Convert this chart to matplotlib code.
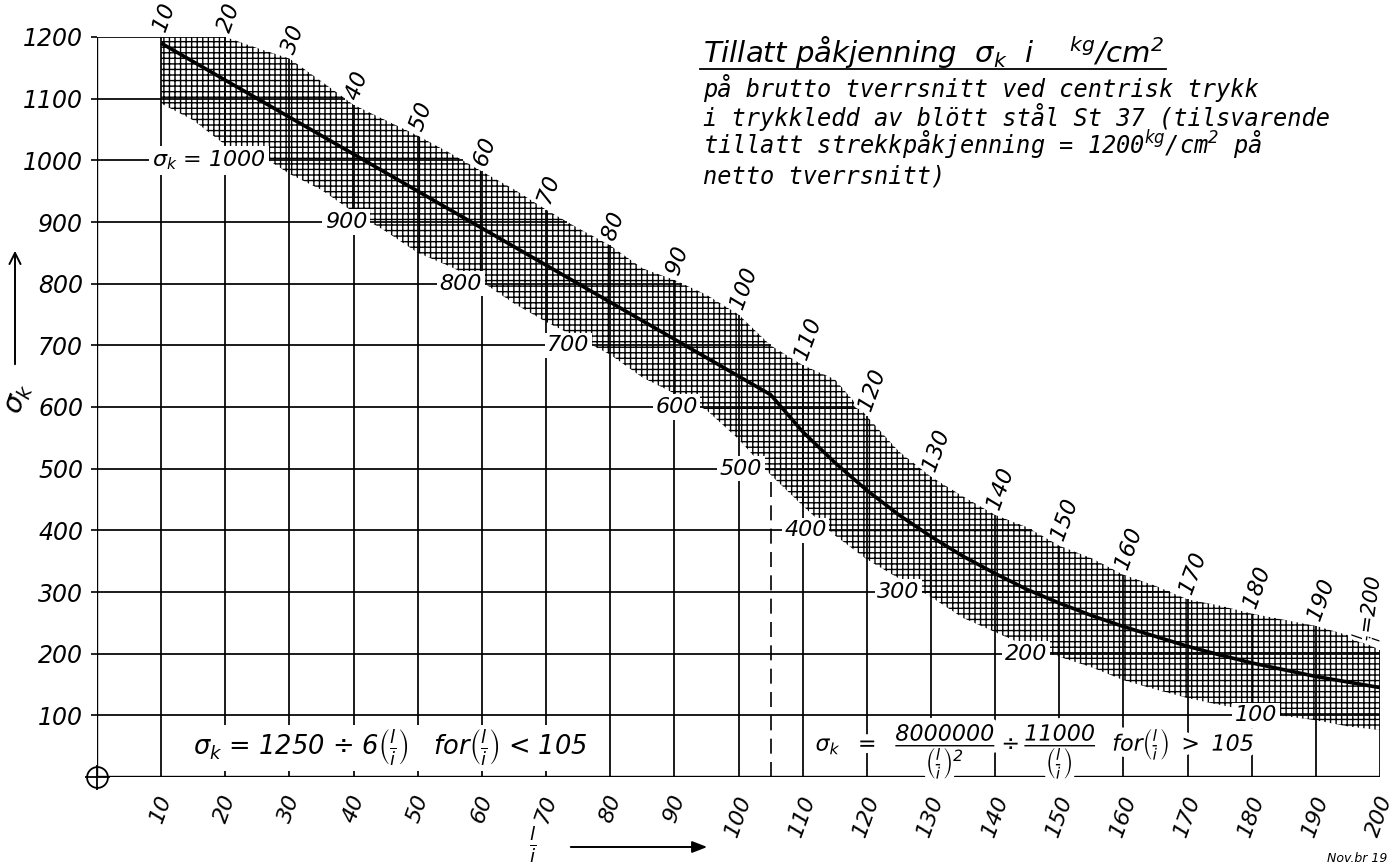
import numpy as np
import matplotlib
matplotlib.use("Agg")
import matplotlib.pyplot as plt
import matplotlib.patheffects as pe
from matplotlib.lines import Line2D
from matplotlib.patches import FancyArrowPatch

plt.rcParams['font.family'] = ['DejaVu Sans']
plt.rcParams['font.style'] = 'oblique'
plt.rcParams['mathtext.fontset'] = 'dejavusans'
plt.rcParams['mathtext.default'] = 'it'
plt.rcParams['hatch.linewidth'] = 1.0

# ---- data ----
lam_curve = [10, 20, 30, 40, 50, 60, 70, 80, 90, 100, 105, 110, 115, 120, 125, 130,
             135, 140, 145, 150, 155, 160, 165, 170, 175, 180, 185, 190, 195, 200]
sigma_curve = [1190, 1130, 1070, 1010, 950, 890, 830, 770, 710, 650, 620, 560, 510, 465,
               425, 390, 358, 330, 304, 282, 262, 244, 228, 212, 198, 185, 174, 163, 154, 145]

band_lam = list(range(10, 205, 5))
band_upper = [1200, 1200, 1200, 1182, 1165, 1128, 1090, 1065, 1040, 1012, 982, 953, 920,
              890, 862, 825, 806, 782, 750, 700, 668, 645, 585, 528, 487, 455, 425, 405,
              375, 355, 328, 310, 288, 278, 265, 255, 245, 230, 206]
band_lower = [1092, 1065, 1025, 1012, 978, 952, 916, 885, 850, 828, 803, 768, 738, 712,
              685, 648, 622, 595, 548, 490, 440, 392, 353, 322, 292, 258, 235, 212, 195,
              178, 157, 142, 128, 117, 107, 99, 92, 82, 76]

x_ticks = list(range(10, 210, 10))
y_ticks = list(range(100, 1300, 100))
sigma_marks = [1000, 900, 800, 700, 600, 500, 400, 300, 200, 100]
lam_marks = list(range(10, 200, 10))
lam_limit = 105

title_head = r"Tillatt påkjenning  $\sigma_k$  i    $^{kg}$/$cm^{2}$"
title_lines = [
    "på brutto tverrsnitt ved centrisk trykk",
    "i trykkledd av blött stål St 37 (tilsvarende",
    r"tillatt strekkpåkjenning = 1200$^{kg}$/cm$^{2}$ på",
    "netto tverrsnitt)",
]

W, H = 1395, 866
fig = plt.figure(figsize=(W / 100, H / 100), dpi=100)
ax = fig.add_axes([97 / W, 89 / H, 1283 / W, 740 / H])
ax.set_xlim(0, 200)
ax.set_ylim(0, 1200)
for s in ax.spines.values():
    s.set_visible(False)

dense = np.linspace(10, 200, 3801)
up_d = np.interp(dense, band_lam, band_upper)
lo_d = np.interp(dense, band_lam, band_lower)

lw_grid = 1.25
# horizontal grid lines up to the upper band edge
for v in y_ticks:
    mask = up_d >= v
    end = dense[mask].max() if mask.any() else 10
    ax.hlines(v, -0.6, end, color='black', lw=lw_grid, zorder=2)
# vertical grid lines up to the upper band edge
for x in x_ticks:
    top = np.interp(x, band_lam, band_upper)
    ax.vlines(x, -10, top, color='black', lw=lw_grid, zorder=2)

# axes
ax.vlines(0, 0, 1205, color='black', lw=1.7, zorder=3)
ax.hlines(0, 0, 200, color='black', lw=1.7, zorder=3)
ax.plot([0], [0], marker='o', ms=15, mfc='none', mec='black', mew=1.3, clip_on=False, zorder=4)
ax.plot([0], [0], marker='+', ms=18, mec='black', mew=1.3, clip_on=False, zorder=4)

# cross-hatched band
ax.fill_between(band_lam, band_lower, band_upper, facecolor='none', edgecolor='black',
                hatch='+++', linewidth=0, zorder=3)

# dashed limit line
ax.vlines(lam_limit, 0, np.interp(lam_limit, band_lam, band_lower), color='black', lw=1.2,
          linestyles=(0, (9, 5)), zorder=2)

# curve
ax.plot(lam_curve, sigma_curve, color='black', lw=2.6, zorder=6, solid_capstyle='butt')

# ticks
ax.set_xticks(x_ticks)
ax.set_xticklabels([str(v) for v in x_ticks])
ax.set_yticks(y_ticks)
ax.set_yticklabels([str(v) for v in y_ticks])
ax.tick_params(axis='x', length=0, pad=11, labelsize=16, labelrotation=70)
ax.tick_params(axis='y', length=4, width=1.2, pad=6, labelsize=17)
for t in ax.get_xticklabels():
    t.set_ha('center')

halo = [pe.withStroke(linewidth=5, foreground='white')]

# sigma labels along the lower band edge
for v in sigma_marks:
    xr = dense[lo_d >= v].max()
    txt = r"$\sigma_k$ = 1000" if v == 1000 else str(v)
    ax.text(xr - 0.4, v, txt, ha='right', va='center', fontsize=16, zorder=7,
            bbox=dict(boxstyle='square,pad=0.12', fc='white', ec='none'))

# lambda labels along the upper band edge
for x in lam_marks:
    top = np.interp(x, band_lam, band_upper)
    ax.text(x - 0.3, top + 8, str(x), rotation=70, rotation_mode='anchor', ha='left',
            va='center', fontsize=16, zorder=7, path_effects=halo, clip_on=False)
ax.text(197.6, np.interp(200, band_lam, band_upper) + 16, r"$\frac{l}{i}$=200", rotation=82,
        rotation_mode='anchor', ha='left', va='center', fontsize=15, zorder=7,
        path_effects=halo, clip_on=False)

# formulas
ax.text(15, 47, r"$\sigma_k$ = 1250 ÷ 6$\left(\frac{l}{i}\right)$   for$\left(\frac{l}{i}\right)$ < 105",
        ha='left', va='center', fontsize=18.5, zorder=7,
        bbox=dict(boxstyle='square,pad=0.1', fc='white', ec='none'))
ax.text(112, 42,
        r"$\sigma_k\ \ =\ \ \dfrac{8000000}{\left(\frac{l}{i}\right)^2}\div\dfrac{11000}{\left(\frac{l}{i}\right)}\ \ for\left(\frac{l}{i}\right)\ >\ 105$",
        ha='left', va='center', fontsize=16, zorder=7,
        path_effects=[pe.withStroke(linewidth=9, foreground='white')])

# title block
fig.text(703 / W, 1 - 63 / H, title_head, ha='left', va='baseline', fontsize=21)
fig.add_artist(Line2D([700 / W, 1166 / W], [1 - 69 / H, 1 - 69 / H], color='black', lw=1.3,
                      transform=fig.transFigure))
for i, line in enumerate(title_lines):
    fig.text(703 / W, 1 - (97 + 28.7 * i) / H, line, ha='left', va='baseline',
             fontsize=17, family=['DejaVu Sans Mono', 'DejaVu Sans'], style='oblique')

# axis labels with arrows
fig.text(18 / W, 1 - 398 / H, r"$\sigma_k$", rotation=70, ha='center', va='center', fontsize=20)
fig.add_artist(FancyArrowPatch((15 / W, 1 - 367 / H), (15 / W, 1 - 248 / H),
               transform=fig.transFigure, arrowstyle='->,head_length=8,head_width=4',
               color='black', lw=1.4))
fig.text(533 / W, 1 - 845 / H, r"$\frac{l}{i}$", ha='center', va='center', fontsize=19)
fig.add_artist(FancyArrowPatch((568 / W, 1 - 847 / H), (710 / W, 1 - 847 / H),
               transform=fig.transFigure, arrowstyle='-|>,head_length=9,head_width=3.5',
               color='black', lw=1.4, mutation_scale=1))

fig.text(1327 / W, 1 - 858 / H, "Nov.br 19", ha='left', va='center', fontsize=9)

fig.savefig("out.png", dpi=100, facecolor='white')
